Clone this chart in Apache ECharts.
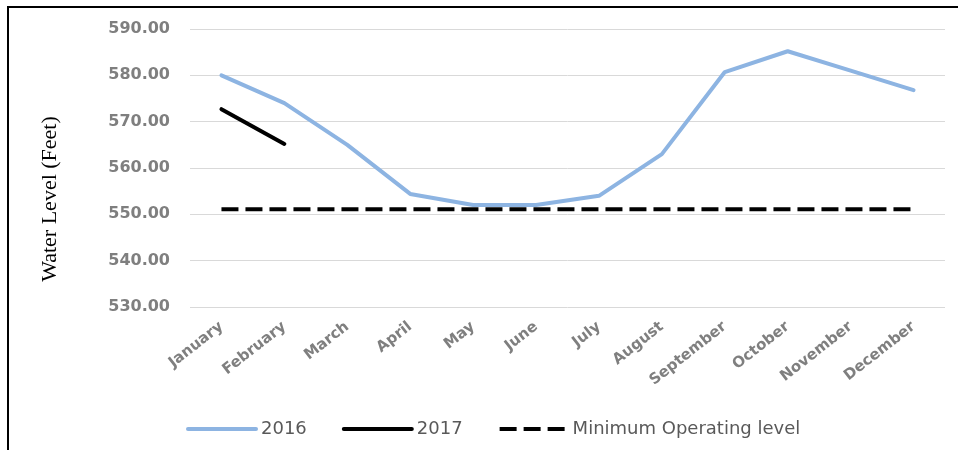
<!DOCTYPE html>
<html>
<head>
<meta charset="utf-8">
<script src="https://cdn.jsdelivr.net/npm/echarts@6/dist/echarts.min.js"></script>
<style>
body { margin: 0; background: #fff; }
#frame { position: absolute; left: 7px; top: 6px; width: 960px; height: 460px; border: 2px solid #000; box-sizing: border-box; }
#chart { position: absolute; left: 0; top: 0; width: 958px; height: 450px; }
</style>
</head>
<body>
<div id="frame"></div>
<div id="chart"></div>
<script>
var months = ['January', 'February', 'March', 'April', 'May', 'June', 'July', 'August', 'September', 'October', 'November', 'December'];
var level2016 = [580.0, 574.0, 565.0, 554.4, 552.0, 552.0, 554.0, 563.0, 580.7, 585.2, 581.0, 576.8];
var level2017 = [572.7, 565.2];
var minLevel = [551.1, 551.1, 551.1, 551.1, 551.1, 551.1, 551.1, 551.1, 551.1, 551.1, 551.1, 551.1];

var chart = echarts.init(document.getElementById('chart'));

var option = {
    animation: false,
    grid: { left: 190, right: 13, top: 29, bottom: 143 },
    graphic: [{
        type: 'text',
        x: 50,
        y: 199,
        rotation: Math.PI / 2,
        style: {
            text: 'Water Level (Feet)',
            fill: '#000',
            font: '22px "Liberation Serif"',
            align: 'center',
            verticalAlign: 'middle'
        }
    }],
    legend: {
        top: 415,
        left: 181,
        itemWidth: 68,
        itemHeight: 4,
        itemGap: 35,
        itemStyle: { opacity: 0 },
        lineStyle: { width: 4 },
        textStyle: { color: '#595959', fontSize: 18, fontFamily: 'DejaVu Sans' },
        data: ['2016', '2017', 'Minimum Operating level']
    },
    xAxis: {
        type: 'category',
        data: months,
        axisLine: { show: false },
        axisTick: { show: false },
        axisLabel: {
            rotate: 38,
            interval: 0,
            margin: 18,
            color: '#7f7f7f',
            fontSize: 15,
            fontWeight: 'bold',
            fontFamily: 'DejaVu Sans'
        }
    },
    yAxis: {
        type: 'value',
        min: 530,
        max: 590,
        interval: 10,
        axisLabel: {
            formatter: function (v) { return v.toFixed(2); },
            color: '#7f7f7f',
            fontSize: 16,
            fontWeight: 'bold',
            fontFamily: 'DejaVu Sans',
            margin: 20
        },
        splitLine: { lineStyle: { color: '#d9d9d9', width: 1 } }
    },
    series: [
        {
            name: '2016',
            type: 'line',
            data: level2016,
            symbol: 'none',
            lineStyle: { color: '#8db4e2', width: 4, cap: 'round' },
            itemStyle: { color: '#8db4e2' }
        },
        {
            name: '2017',
            type: 'line',
            data: level2017,
            symbol: 'none',
            lineStyle: { color: '#000', width: 4, cap: 'round' },
            itemStyle: { color: '#000' }
        },
        {
            name: 'Minimum Operating level',
            type: 'line',
            data: minLevel,
            symbol: 'none',
            lineStyle: { color: '#000', width: 4, type: [17, 7] },
            itemStyle: { color: '#000' }
        }
    ]
};
chart.setOption(option);
</script>
</body>
</html>
